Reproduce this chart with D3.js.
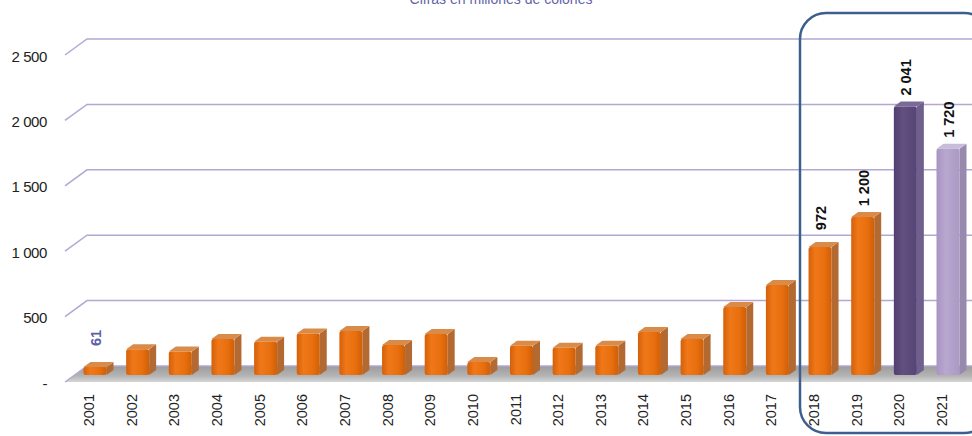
<!DOCTYPE html>
<html>
<head>
<meta charset="utf-8">
<script src="https://cdn.jsdelivr.net/npm/d3@7"></script>
<style>
  body { margin: 0; background: #fff; }
  svg { display: block; font-family: "Liberation Sans", Arial, sans-serif; }
</style>
</head>
<body>
<svg id="chart" width="972" height="436"></svg>
<script>
const years = ["2001","2002","2003","2004","2005","2006","2007","2008","2009","2010","2011",
  "2012","2013","2014","2015","2016","2017","2018","2019","2020","2021"];
const values = [61, 195, 178, 274, 252, 316, 334, 228, 312, 99, 222, 207, 222, 327, 274, 517, 684, 972, 1200, 2041, 1720];
const labelled = ["2001", "2018", "2019", "2020", "2021"];
const yTicks = [0, 500, 1000, 1500, 2000, 2500];

const fmt = v => v === 0 ? "-" : d3.format(",")(v).replace(/,/g, " ");

const svg = d3.select("#chart");
const W = 972;

// depth of the 3d box
const dX = 22, dY = -16;
const frontX = 65;

const yBack = d3.scaleLinear().domain([0, 2500]).range([366, 39]);
const yBar = d3.scaleLinear().domain([0, 2500]).range([375, 46]);
const x = d3.scalePoint().domain(years).range([95, 948]);
const barW = 23, bdx = 7, bdy = -5;

const defs = svg.append("defs");
function grad(id, stops, horiz) {
  const g = defs.append("linearGradient").attr("id", id)
    .attr("x1", 0).attr("y1", 0).attr("x2", horiz ? 1 : 0).attr("y2", horiz ? 0 : 1);
  stops.forEach(s => g.append("stop").attr("offset", s[0]).attr("stop-color", s[1]));
}
grad("floor", [[0, "#9b9b9b"], [0.6, "#b3b3b3"], [1, "#d6d6d6"]], false);
grad("orange", [[0, "#d4600a"], [0.3, "#f07818"], [0.7, "#e86f0e"], [1, "#cf5f08"]], true);
grad("dark", [[0, "#523f73"], [0.4, "#62507f"], [1, "#574477"]], true);
grad("light", [[0, "#a894c2"], [0.4, "#b8a7cf"], [1, "#ab99c4"]], true);

const colors = {
  orange: { face: "url(#orange)", side: "#b36a32", top: "#d98b4a" },
  dark: { face: "url(#dark)", side: "#6f5f8c", top: "#7a6a98" },
  light: { face: "url(#light)", side: "#988aac", top: "#c9bcdb" }
};
const colorOf = y => y === "2020" ? colors.dark : y === "2021" ? colors.light : colors.orange;

// title (cut off at top)
svg.append("text")
  .attr("x", 501).attr("y", 4)
  .attr("text-anchor", "middle")
  .attr("font-size", 14)
  .attr("fill", "#6464a8")
  .text("Cifras en millones de colones");

// gridlines
const grid = svg.append("g");
yTicks.filter(t => t > 0).forEach(t => {
  const yb = yBack(t);
  grid.append("path")
    .attr("d", `M${frontX},${yb - dY} L${frontX + dX},${yb} L${W},${yb}`)
    .attr("fill", "none").attr("stroke", "#b4a7d2").attr("stroke-width", 1.5);
});

// floor
const y0 = yBack(0);
svg.append("path")
  .attr("d", `M${frontX},${y0 - dY} L${frontX + dX},${y0} L${W},${y0} L${W},${y0 - dY} Z`)
  .attr("fill", "url(#floor)");
svg.append("path")
  .attr("d", `M${frontX},${y0 - dY} L${frontX + dX},${y0} L${W},${y0}`)
  .attr("fill", "none").attr("stroke", "#b4a7d2").attr("stroke-width", 1.5);

// y labels
svg.append("g").selectAll("text")
  .data(yTicks)
  .join("text")
  .attr("x", 47)
  .attr("y", d => yBack(d) - dY + 1)
  .attr("text-anchor", "end")
  .attr("dominant-baseline", "central")
  .attr("font-size", 15)
  .attr("letter-spacing", -0.4)
  .attr("fill", "#222")
  .text(fmt);

// bars
const bars = svg.append("g").selectAll("g")
  .data(years.map((y, i) => ({ year: y, value: values[i] })))
  .join("g");

bars.each(function (d) {
  const g = d3.select(this);
  const c = colorOf(d.year);
  const x0 = x(d.year) - barW / 2, x1 = x0 + barW;
  const yt = yBar(d.value), yb = yBar(0);
  g.append("path")
    .attr("d", `M${x1},${yt} L${x1 + bdx},${yt + bdy} L${x1 + bdx},${yb + bdy} L${x1},${yb} Z`)
    .attr("fill", c.side);
  g.append("path")
    .attr("d", `M${x0},${yt} L${x0 + bdx},${yt + bdy} L${x1 + bdx},${yt + bdy} L${x1},${yt} Z`)
    .attr("fill", c.top);
  g.append("rect")
    .attr("x", x0).attr("y", yt)
    .attr("width", barW).attr("height", yb - yt)
    .attr("rx", 2)
    .attr("fill", c.face);
});

// value labels
svg.append("g").selectAll("text")
  .data(years.map((y, i) => ({ year: y, value: values[i] })).filter(d => labelled.includes(d.year)))
  .join("text")
  .attr("transform", d => `translate(${x(d.year) + 1},${yBar(d.value) - 29}) rotate(-90)`)
  .attr("text-anchor", "middle")
  .attr("dominant-baseline", "central")
  .attr("font-size", 14.5)
  .attr("font-weight", "bold")
  .attr("fill", d => d.year === "2001" ? "#5b5ea8" : "#111")
  .text(d => fmt(d.value));

// year labels
svg.append("g").selectAll("text")
  .data(years)
  .join("text")
  .attr("transform", d => `translate(${x(d) - 6},394) rotate(-90)`)
  .attr("text-anchor", "end")
  .attr("dominant-baseline", "central")
  .attr("font-size", 14.5)
  .attr("fill", "#222")
  .text(d => d);

// highlight box
svg.append("rect")
  .attr("x", 800).attr("y", 13)
  .attr("width", 190).attr("height", 420)
  .attr("rx", 26)
  .attr("fill", "none")
  .attr("stroke", "#3c5f8e")
  .attr("stroke-width", 2.5);
</script>
</body>
</html>
